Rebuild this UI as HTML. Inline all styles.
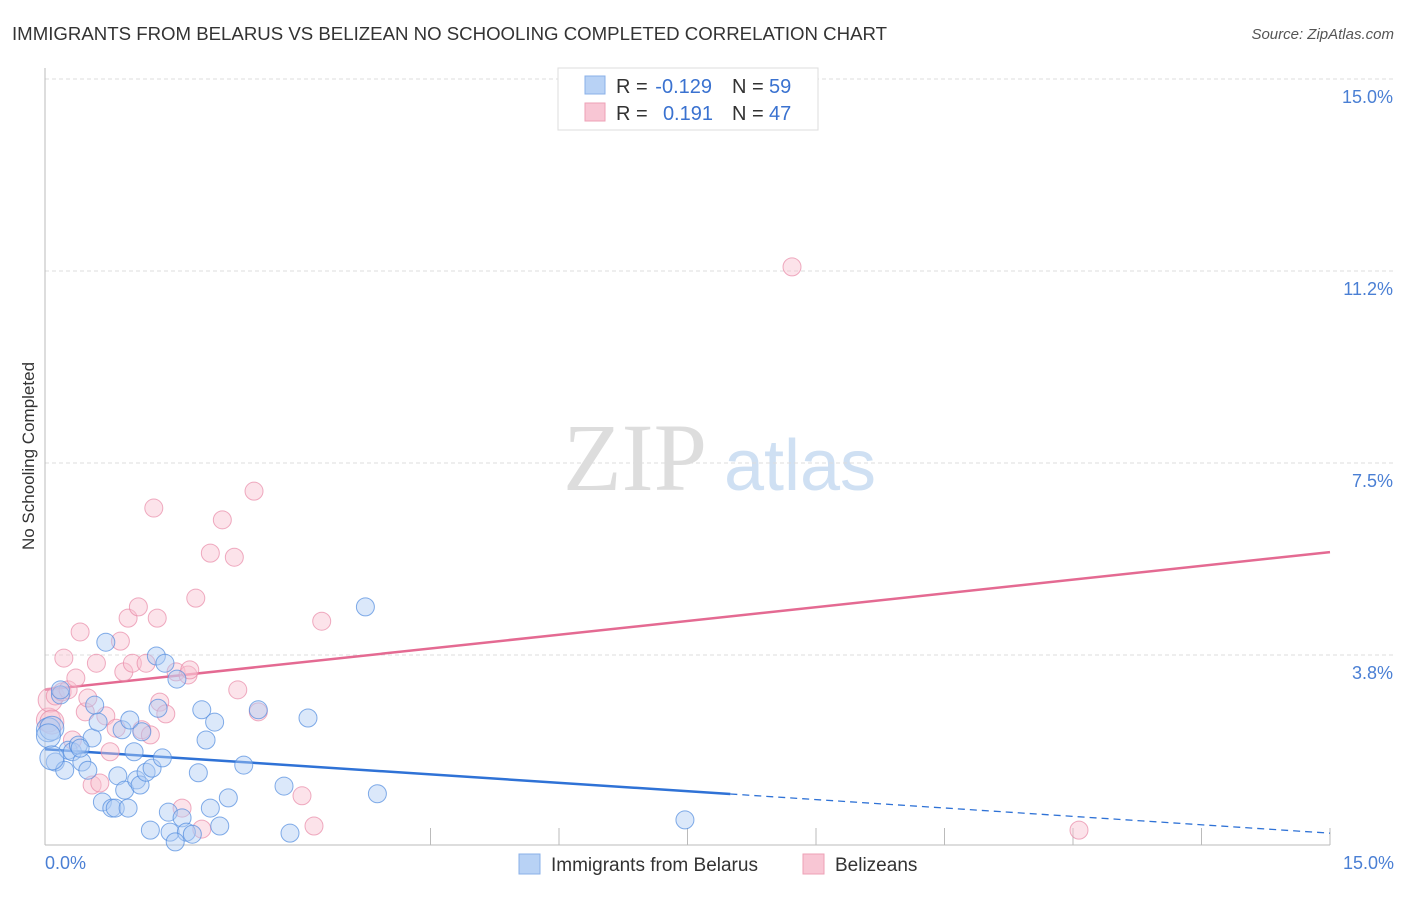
<!DOCTYPE html>
<html><head><meta charset="utf-8"><style>
body{margin:0;background:#fff;font-family:"Liberation Sans",sans-serif;}
</style></head><body>
<svg width="1406" height="892" xmlns="http://www.w3.org/2000/svg" font-family="Liberation Sans, sans-serif">
<text x="12" y="40" font-size="18" fill="#333" textLength="875" lengthAdjust="spacingAndGlyphs">IMMIGRANTS FROM BELARUS VS BELIZEAN NO SCHOOLING COMPLETED CORRELATION CHART</text>
<text x="1394" y="39" font-size="15" fill="#555" text-anchor="end" font-style="italic">Source: ZipAtlas.com</text>
<text transform="translate(34,456) rotate(-90)" font-size="17" fill="#333" text-anchor="middle">No Schooling Completed</text>
<g>
<text x="635" y="490" font-size="96" fill="#ddd" font-family="Liberation Serif, serif" text-anchor="middle">ZIP</text>
<text x="800" y="490" font-size="72" fill="#cfe0f3" text-anchor="middle">atlas</text>
</g>
<g id="grid"></g>
<line x1="45" y1="68" x2="45" y2="845" stroke="#bbb"/>
<line x1="45" y1="845" x2="1330" y2="845" stroke="#bbb"/>
<g id="xticks"></g>
<g id="trend"></g>
<g id="pts"></g>
<text x="45" y="869" font-size="18" fill="#4a7fd4">0.0%</text>
<text x="1394" y="869" font-size="18" fill="#4a7fd4" text-anchor="end">15.0%</text>
<g font-size="20">
<rect x="558" y="68" width="260" height="62" fill="#fff" stroke="#ddd"/>
<rect x="585" y="76" width="20" height="18" fill="#b8d2f5" stroke="#8ab0e8"/>
<rect x="585" y="103" width="20" height="18" fill="#f8c6d4" stroke="#eea0b6"/>
<text x="616" y="93" fill="#333">R =</text>
<text x="712" y="93" fill="#3a72d0" text-anchor="end">-0.129</text>
<text x="732" y="93" fill="#333">N =</text>
<text x="769" y="93" fill="#3a72d0">59</text>
<text x="616" y="120" fill="#333">R =</text>
<text x="713" y="120" fill="#3a72d0" text-anchor="end">0.191</text>
<text x="732" y="120" fill="#333">N =</text>
<text x="769" y="120" fill="#3a72d0">47</text>
</g>
<g>
<rect x="519" y="854" width="21" height="20" fill="#b8d2f5" stroke="#8ab0e8"/>
<text x="551" y="871" font-size="19" fill="#333">Immigrants from Belarus</text>
<rect x="803" y="854" width="21" height="20" fill="#f8c6d4" stroke="#eea0b6"/>
<text x="835" y="871" font-size="19" fill="#333">Belizeans</text>
</g>
</svg>
<script>
const yTicks=[3.75,7.5,11.25,15];
const yTickLabels=["3.8%","7.5%","11.2%","15.0%"];
const xTicks=[4.5,6,7.5,9,10.5,12,13.5,15];
const blueX=[0.04,0.08,0.12,0.18,0.23,0.27,0.32,0.39,0.43,0.50,0.55,0.58,0.62,0.67,0.71,0.78,0.82,0.85,0.90,0.93,0.97,0.99,1.04,1.07,1.11,1.13,1.18,1.23,1.25,1.30,1.32,1.37,1.40,1.44,1.46,1.54,1.60,1.65,1.72,1.79,1.83,1.88,1.93,1.98,2.04,2.14,2.32,2.49,2.79,2.86,3.07,3.74,3.88,7.47,0.04,0.18,0.08,0.41,1.52];
const blueY=[2.29,2.32,1.66,2.97,1.50,1.89,1.86,1.99,1.66,1.50,2.13,2.77,2.44,0.88,4.00,0.76,0.76,1.39,2.29,1.11,0.76,2.48,1.86,1.31,1.21,2.25,1.46,0.33,1.54,3.73,2.71,1.74,3.59,0.68,0.29,3.28,0.57,0.29,0.25,1.45,2.68,2.09,0.76,2.44,0.41,0.96,1.60,2.68,1.19,0.27,2.52,4.69,1.04,0.53,2.17,3.07,1.74,1.93,0.10];
const pinkX=[0.04,0.06,0.12,0.20,0.22,0.27,0.32,0.36,0.41,0.47,0.50,0.55,0.60,0.64,0.71,0.76,0.83,0.88,0.92,0.97,1.02,1.09,1.13,1.18,1.23,1.27,1.31,1.34,1.41,1.53,1.60,1.67,1.69,1.76,1.83,1.93,2.07,2.21,2.25,2.44,2.49,3.00,3.14,3.23,8.72,12.07,0.08];
const pinkY=[2.48,2.87,2.95,3.03,3.69,3.07,2.09,3.30,4.20,2.64,2.91,1.21,3.59,1.25,2.56,1.86,2.32,4.02,3.42,4.47,3.59,4.69,2.29,3.59,2.19,6.62,4.47,2.83,2.60,3.42,0.76,3.36,3.46,4.86,0.35,5.74,6.39,5.66,3.07,6.95,2.64,1.00,0.41,4.41,11.33,0.33,2.44];
const blueTrend=[1.91,0.27], blueSolidEnd=8.0;
const pinkTrend=[3.07,5.76];
const NS="http://www.w3.org/2000/svg";
const sx=v=>45+v/15*1285, sy=v=>847-v*51.2;
function mk(t,a,p){const e=document.createElementNS(NS,t);for(const k in a)e.setAttribute(k,a[k]);p.appendChild(e);return e;}
const grid=document.getElementById('grid');
yTicks.forEach((v,i)=>{
 const l=mk('line',{x1:45,x2:1394,y1:sy(v),y2:sy(v),stroke:'#ddd','stroke-dasharray':'4,3'},grid);
 
 
 const t=mk('text',{x:1393,y:sy(v)+24,'font-size':18,fill:'#4a7fd4','text-anchor':'end'},grid);
 t.textContent=yTickLabels[i];
 
 
});
const xt=document.getElementById('xticks');
xTicks.forEach(v=>{
 const l=mk('line',{x1:sx(v),x2:sx(v),y1:828,y2:845,stroke:'#bbb'},xt);
 
 
});
const pts=document.getElementById('pts');
function draw(X,Y,fill,stroke,name){X.forEach((x,i)=>{
 const r=(x<0.1)?12:9;
 const c=mk('circle',{cx:sx(x),cy:sy(Y[i]),r:r,fill:fill,'fill-opacity':0.45,stroke:stroke,'stroke-width':1,'stroke-opacity':0.7},pts);
 
 
});}
draw(pinkX,pinkY,'#f8c0d0','#e889a6','belizean-point');
draw(blueX,blueY,'#b0cdf3','#4f8ade','belarus-point');
const tr=document.getElementById('trend');
const by=x=>blueTrend[0]+(blueTrend[1]-blueTrend[0])*x/15;
let l=mk('line',{x1:sx(0),y1:sy(by(0)),x2:sx(blueSolidEnd),y2:sy(by(blueSolidEnd)),stroke:'#2f72d6','stroke-width':2.5},tr);


l=mk('line',{x1:sx(blueSolidEnd),y1:sy(by(blueSolidEnd)),x2:sx(15),y2:sy(by(15)),stroke:'#2f72d6','stroke-width':1.3,'stroke-dasharray':'7,5'},tr);


l=mk('line',{x1:sx(0),y1:sy(pinkTrend[0]),x2:sx(15),y2:sy(pinkTrend[1]),stroke:'#e46a92','stroke-width':2.5},tr);


</script>
</body></html>
